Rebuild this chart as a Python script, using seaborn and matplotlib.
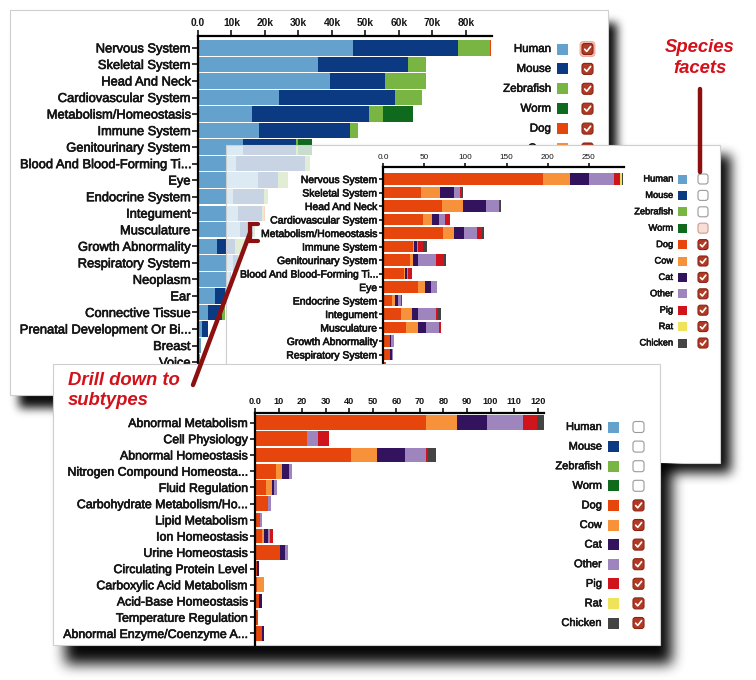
import numpy as np
import pandas as pd
import matplotlib
matplotlib.use("Agg")
import matplotlib.pyplot as plt
import seaborn as sns
from matplotlib.patches import Rectangle, FancyBboxPatch
from matplotlib.lines import Line2D
from matplotlib.transforms import Affine2D
import matplotlib.patheffects as pe

# ---------------- data ----------------
species = ["Human", "Mouse", "Zebrafish", "Worm", "Dog", "Cow", "Cat",
           "Other", "Pig", "Rat", "Chicken"]
colors = ["#65a1cd", "#0b3a82", "#78b543", "#106a1e", "#e6460b", "#f7923a",
          "#33135e", "#9f85be", "#d0141b", "#efe35c", "#444444"]

# Panel 1: all phenotype categories, all species (counts)
cats1 = ["Nervous System", "Skeletal System", "Head And Neck",
         "Cardiovascular System", "Metabolism/Homeostasis", "Immune System",
         "Genitourinary System", "Blood And Blood-Forming Ti...", "Eye",
         "Endocrine System", "Integument", "Musculature", "Growth Abnormality",
         "Respiratory System", "Neoplasm", "Ear", "Connective Tissue",
         "Prenatal Development Or Bi...", "Breast", "Voice"]
human1 = [46300, 35900, 39400, 24200, 16100, 18200, 13400, 11300, 17900, 10400,
          12000, 12500, 5700, 10500, 9500, 5100, 3000, 1200, 800, 500]
mouse1 = [31300, 26800, 16400, 34600, 34900, 27200, 15800, 20700, 6000, 9300,
          7000, 4000, 5300, 1500, 500, 2900, 4200, 1800, 100, 100]
zebrafish1 = [9600, 5300, 12200, 8100, 4200, 2400, 700, 1400, 3000, 1200,
              800, 500, 3000, 300, 0, 300, 800, 0, 0, 0]
worm1 = [0, 0, 0, 0, 9000, 0, 4100, 0, 0, 0, 0, 0, 0, 0, 0, 0, 0, 0, 0, 0]
dog1 = [300, 100, 100, 100, 100, 50, 80, 30, 60, 20, 60, 70, 10, 10, 0, 0, 0, 0, 0, 0]

# Panel 2: same categories, non-model species only
cats2 = ["Nervous System", "Skeletal System", "Head And Neck",
         "Cardiovascular System", "Metabolism/Homeostasis", "Immune System",
         "Genitourinary System", "Blood And Blood-Forming Ti...", "Eye",
         "Endocrine System", "Integument", "Musculature", "Growth Abnormality",
         "Respiratory System", "Neoplasm"]
dog2 = [194, 46, 72, 49, 73, 37, 33, 25.5, 43, 11, 22, 28, 8, 8.5, 4]
cow2 = [33, 23, 25, 11, 13, 1, 4, 1.5, 8, 3, 13, 14, 0, 0, 0]
cat2 = [23, 17, 28, 8, 12, 3, 6, 2, 7, 4, 8, 10, 2, 2.5, 0]
other2 = [30, 7, 16, 7, 16, 2, 21, 1, 7, 4, 21, 16, 3, 1, 0]
pig2 = [8, 3, 1.5, 6, 6, 6, 10, 5, 0, 1, 3, 3, 0, 0, 0]
rat2 = [1.5, 0, 0, 0, 0, 0, 0, 0, 0, 0, 0, 0, 0, 0, 0]
chicken2 = [1.5, 1, 0.5, 0, 3, 4, 2, 0, 0, 0, 3, 0, 0, 0, 0]

# Panel 3: subtypes of Metabolism/Homeostasis
cats3 = ["Abnormal Metabolism", "Cell Physiology", "Abnormal Homeostasis",
         "Nitrogen Compound Homeosta...", "Fluid Regulation",
         "Carbohydrate Metabolism/Ho...", "Lipid Metabolism", "Ion Homeostasis",
         "Urine Homeostasis", "Circulating Protein Level",
         "Carboxylic Acid Metabolism", "Acid-Base Homeostasis",
         "Temperature Regulation", "Abnormal Enzyme/Coenzyme A..."]
dog3 = [72.6, 22, 40.8, 8.8, 4.7, 5.7, 2.1, 2.8, 10.6, 0.7, 0.8, 1.7, 1.1, 2.8]
cow3 = [13, 0, 10.9, 2.8, 2.7, 0, 0, 1.0, 0, 0, 3.0, 0, 0, 0]
cat3 = [13.1, 0, 12, 3, 0.8, 0, 0, 1.9, 2.1, 1.0, 0, 1.1, 0, 1.0]
other3 = [15, 4.6, 8.8, 1, 1.3, 0.9, 0.7, 0.7, 1.2, 0, 0, 0, 0, 0]
pig3 = [5.9, 5, 1.1, 0, 0, 0, 0, 1.4, 0, 0, 0, 0, 0, 0]
rat3 = [0.3, 0, 0, 0, 0, 0, 0, 0, 0, 0, 0, 0, 0, 0]
chicken3 = [2.8, 0, 3.1, 0, 0, 0, 0, 0, 0, 0, 0, 0, 0, 0]

ticks1 = [0, 10000, 20000, 30000, 40000, 50000, 60000, 70000, 80000]
ticklabels1 = ["0.0", "10k", "20k", "30k", "40k", "50k", "60k", "70k", "80k"]
ticks2 = [0, 50, 100, 150, 200, 250]
ticklabels2 = ["0.0", "50", "100", "150", "200", "250"]
ticks3 = [0, 10, 20, 30, 40, 50, 60, 70, 80, 90, 100, 110, 120]
ticklabels3 = ["0.0"] + [str(t) for t in ticks3[1:]]

checked1 = [True] * 11
checked2 = [False, False, False, False] + [True] * 7
checked3 = [False, False, False, False] + [True] * 7

# ---------------- setup ----------------
W, H = 756, 680
sns.set_style("white")
plt.rcParams["font.family"] = ["Liberation Sans", "DejaVu Sans"]
TXT = "#151515"

fig = plt.figure(figsize=(W / 100, H / 100), dpi=100)
fig.patch.set_facecolor("white")
PX = Affine2D().scale(1 / W, -1 / H).translate(0, 1) + fig.transFigure


def box1d(a, r, axis):
    a = np.moveaxis(a, axis, -1)
    p = np.pad(a, [(0, 0)] * (a.ndim - 1) + [(r + 1, r)], mode="edge")
    c = np.cumsum(p, axis=-1)
    out = (c[..., 2 * r + 1:] - c[..., :-2 * r - 1]) / (2 * r + 1)
    return np.moveaxis(out, -1, axis)


def shadow(rect, dx, dy, r, amax, z, masks):
    x0, y0, x1, y1 = rect
    m = np.zeros((H, W))
    m[max(0, y0 + dy):min(H, y1 + dy), max(0, x0 + dx):min(W, x1 + dx)] = 1.0
    for _ in range(3):
        m = box1d(m, r, 0)
        m = box1d(m, r, 1)
    a = np.clip(m * amax, 0, 1)
    for (a0, b0, a1, b1) in masks:
        a[b0:b1, a0:a1] = 0
    img = np.zeros((H, W, 4))
    img[..., 3] = a
    axs = fig.add_axes([0, 0, 1, 1])
    axs.imshow(img, extent=(0, W, H, 0), interpolation="bilinear", aspect="auto")
    axs.set_xlim(0, W)
    axs.set_ylim(H, 0)
    axs.axis("off")
    axs.set_zorder(z)


def panel(rect, z, fade_to=None, alpha=1.0):
    x0, y0, x1, y1 = rect
    if fade_to is None:
        fig.add_artist(Rectangle((x0, y0), x1 - x0, y1 - y0, transform=PX,
                                 facecolor="white", edgecolor="none", zorder=z))
    else:
        fig.add_artist(Rectangle((x0, y0), fade_to - x0, y1 - y0, transform=PX,
                                 facecolor=(1, 1, 1, alpha), edgecolor="none",
                                 zorder=z))
        fig.add_artist(Rectangle((fade_to, y0), x1 - fade_to, y1 - y0,
                                 transform=PX, facecolor="white",
                                 edgecolor="none", zorder=z))
    fig.add_artist(Rectangle((x0, y0), x1 - x0, y1 - y0, transform=PX,
                             facecolor="none", edgecolor="#cfcfcf",
                             linewidth=0.8, zorder=z + 0.01))


def place(xl, xr, yt, yb):
    return fig.add_axes([xl / W, 1 - yb / H, (xr - xl) / W, (yb - yt) / H])


def stacked(ax, cats, series, cols, width):
    cum = np.cumsum(np.array(series, dtype=float), axis=0)
    for k in range(len(series) - 1, -1, -1):
        sns.barplot(x=cum[k], y=cats, order=cats, orient="h", color=cols[k],
                    saturation=1, width=width, errorbar=None, ax=ax,
                    linewidth=0)


def style_axes(ax, xlim, ylim, ticks, labels, xfs, xbold, yfs, tlen, z):
    ax.set_zorder(z)
    ax.patch.set_visible(False)
    ax.set_xlim(*xlim)
    ax.set_ylim(*ylim)
    ax.set_xlabel("")
    ax.set_ylabel("")
    ax.xaxis.tick_top()
    ax.set_xticks(ticks, labels, fontsize=xfs,
                  fontweight="bold" if xbold else "normal", color=TXT)
    for s in ["right", "bottom"]:
        ax.spines[s].set_visible(False)
    for s in ["top", "left"]:
        ax.spines[s].set_visible(True)
        ax.spines[s].set_color("black")
        ax.spines[s].set_linewidth(1.6)
    ax.tick_params(axis="x", top=True, bottom=False, labeltop=True,
                   labelbottom=False, length=tlen, width=1.1, pad=1.5,
                   color="black")
    ax.tick_params(axis="y", left=True, length=tlen, width=1.1, pad=1.2,
                   color="black", labelsize=yfs, labelcolor=TXT)
    for t in ax.get_yticklabels():
        t.set_path_effects([pe.withStroke(linewidth=0.45, foreground=TXT)])


def checkbox(x, y, s, state, z, halo=False, pink=False):
    if halo:
        fig.add_artist(FancyBboxPatch((x - 2, y - s / 2 - 2), s + 4, s + 4,
                                      boxstyle="round,pad=0,rounding_size=3.5",
                                      transform=PX, facecolor="#f5c2b6",
                                      edgecolor="#eaa595", linewidth=0.6,
                                      zorder=z))
    if state:
        fc, ec = "#b13a25", "#8a2515"
    elif pink:
        fc, ec = "#f6dfd9", "#d39a8d"
    else:
        fc, ec = "white", "#9a9a9a"
    fig.add_artist(FancyBboxPatch((x, y - s / 2), s, s,
                                  boxstyle="round,pad=0,rounding_size=2.5",
                                  transform=PX, facecolor=fc, edgecolor=ec,
                                  linewidth=0.8, zorder=z))
    if state:
        fig.add_artist(Line2D([x + s * 0.24, x + s * 0.43, x + s * 0.78],
                              [y + s * 0.02, y + s * 0.22, y - s * 0.22],
                              transform=PX, color="white", linewidth=1.2,
                              solid_capstyle="round", zorder=z + 0.01))


def legend(xlab, xsq, sq, xcb, cb, y0, dy, fs, checked, z, halo=None, pink=None):
    for i, (name, col) in enumerate(zip(species, colors)):
        y = y0 + i * dy
        fig.text(xlab, y, name, transform=PX, ha="right", va="center",
                 fontsize=fs, color=TXT, zorder=z,
                 path_effects=[pe.withStroke(linewidth=0.4, foreground=TXT)])
        fig.add_artist(Rectangle((xsq, y - sq / 2), sq, sq, transform=PX,
                                 facecolor=col, edgecolor="none", zorder=z))
        checkbox(xcb, y, cb, checked[i], z, halo=(halo == i), pink=(pink == i))


# ---------------- panel 1 ----------------
R1 = (10, 10, 608, 395)
shadow(R1, 9, 13, 4, 0.95, 1, [R1])
panel(R1, 2)
ax1 = place(198, 492, 36, 48 + 20.3 * 16.53)
stacked(ax1, cats1, [human1, mouse1, zebrafish1, worm1, dog1], colors[:5], 0.93)
style_axes(ax1, (0, 87800), (20.3, -0.72), ticks1, ticklabels1, 7.4, True,
           9.3, 4.3, 3)
legend(551, 557, 11, 582, 11, 49, 19.9, 8.3, checked1, 4, halo=0)

# ---------------- panel 2 ----------------
R2 = (226, 145, 720, 463)
shadow(R2, 11, 10, 5, 0.95, 5, [R2])
panel(R2, 6, fade_to=345, alpha=0.78)
ax2 = place(383, 624, 167, 179 + 14.6 * 13.5)
stacked(ax2, cats2, [dog2, cow2, cat2, other2, pig2, rat2, chicken2],
        colors[4:], 0.82)
style_axes(ax2, (0, 292.5), (14.6, -0.89), ticks2, ticklabels2, 5.9, False,
           7.5, 3.0, 7)
clip2 = Rectangle((R2[0], R2[1]), R2[2] - R2[0], R2[3] - R2[1], transform=PX)
for t in ax2.get_yticklabels():
    t.set_clip_path(clip2)
legend(673, 678, 9, 698, 10, 179, 16.4, 6.7, checked2, 8, pink=3)

# ---------------- panel 3 ----------------
R3 = (53, 364, 660, 645)
shadow(R3, 12, 19, 6, 0.97, 9, [R3, R2])
panel(R3, 10)
ax3 = place(255, 544, 412.8, 645)
stacked(ax3, cats3, [dog3, cow3, cat3, other3, pig3, rat3, chicken3],
        colors[4:], 0.9)
style_axes(ax3, (0, 122.7), (13.71, -0.6), ticks3, ticklabels3, 6.6, True,
           8.9, 3.4, 11)
legend(602, 608, 11, 633, 11, 427, 19.6, 8.0, checked3, 12)

# ---------------- annotations ----------------
RED = "#d3111a"
DARK = "#8d1010"
fig.text(700, 52, "Species", transform=PX, ha="center", va="baseline",
         fontsize=13.3, fontweight="bold", style="italic", color=RED, zorder=14)
fig.text(700, 73, "facets", transform=PX, ha="center", va="baseline",
         fontsize=13.3, fontweight="bold", style="italic", color=RED, zorder=14)
fig.add_artist(Line2D([700, 700], [89, 172], transform=PX, color=DARK,
                      linewidth=3.2, solid_capstyle="round", zorder=14))
fig.text(68, 385, "Drill down to", transform=PX, ha="left", va="baseline",
         fontsize=13.3, fontweight="bold", style="italic", color=RED, zorder=14)
fig.text(68, 405, "subtypes", transform=PX, ha="left", va="baseline",
         fontsize=13.3, fontweight="bold", style="italic", color=RED, zorder=14)
fig.add_artist(Line2D([258, 250, 250, 258], [224, 224, 241, 241], transform=PX,
                      color=DARK, linewidth=3.0, solid_joinstyle="miter",
                      zorder=14))
fig.add_artist(Line2D([250, 193], [233, 385], transform=PX, color=DARK,
                      linewidth=3.2, solid_capstyle="round", zorder=14))

fig.savefig("out.png", dpi=100, facecolor="white")
